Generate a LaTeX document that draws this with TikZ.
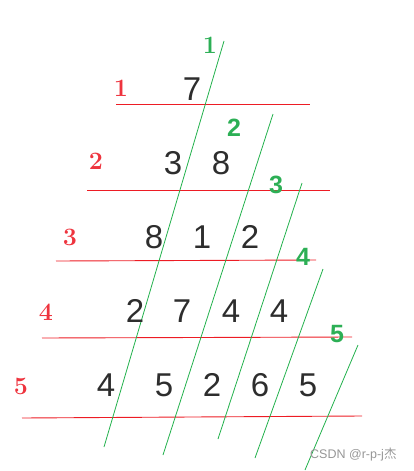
\documentclass[tikz,border=0pt]{standalone}
\usepackage{fontspec}
\newfontfamily\digitfont{Liberation Sans}
\newfontfamily\cjkfont{Noto Sans CJK SC}
\definecolor{pred}{RGB}{237,28,36}
\definecolor{lred}{RGB}{238,52,62}
\definecolor{pgreen}{RGB}{34,177,76}
\definecolor{lgreen}{RGB}{44,175,85}
\definecolor{dgray}{RGB}{45,45,45}
\definecolor{wm}{RGB}{150,150,150}
\tikzset{
  num/.style={font=\digitfont\fontsize{33}{33}\selectfont, text=dgray, inner sep=0pt},
  rowlabel/.style={font=\bfseries\fontsize{25}{25}\selectfont, text=lred, inner sep=0pt},
  diaglabel/.style={font=\digitfont\bfseries\fontsize{25}{25}\selectfont, text=lgreen, inner sep=0pt},
  diaglabelserif/.style={font=\bfseries\fontsize{25}{25}\selectfont, text=lgreen, inner sep=0pt},
  rowline/.style={draw=pred, line width=0.9pt},
  diagline/.style={draw=pgreen, line width=0.8pt},
}
\begin{document}
\begin{tikzpicture}[x=1pt,y=-1pt]
\useasboundingbox (0,0) rectangle (413,471);
% horizontal red lines
\draw[rowline] (116,104) -- (310,104);
\draw[rowline] (87,190) -- (330,190);
\draw[rowline] (56,261) -- (316,260);
\draw[rowline] (42,338) -- (352,337);
\draw[rowline] (22,418) -- (362,416);
% diagonal green lines
\coordinate (g1a) at (224,41);  \coordinate (g1b) at (104,447);
\coordinate (g2a) at (273,114); \coordinate (g2b) at (163,455);
\coordinate (g3a) at (302,183); \coordinate (g3b) at (218,439);
\coordinate (g4a) at (323,269); \coordinate (g4b) at (255,458);
\coordinate (g5a) at (358,345); \coordinate (g5b) at (305,470);
\draw[diagline] (g1a) -- (g1b);
\draw[diagline] (g2a) -- (g2b);
\draw[diagline] (g3a) -- (g3b);
\draw[diagline] (g4a) -- (g4b);
\draw[diagline] (g5a) -- (g5b);
% row labels
\node[rowlabel] (r1) at (121,88) {1};
\node[rowlabel] (r2) at (96,161) {2};
\node[rowlabel] (r3) at (70,237) {3};
\node[rowlabel] (r4) at (46,312) {4};
\node[rowlabel] (r5) at (21,386) {5};
% diagonal labels
\node[diaglabelserif] (d1) at (210,45) {1};
\node[diaglabel] (d2) at (234,128) {2};
\node[diaglabel] (d3) at (276,185) {3};
\node[diaglabel] (d4) at (303,257) {4};
\node[diaglabel] (d5) at (337,334) {5};
% triangle numbers
\node[num] (n11) at (192,89) {7};
\node[num] (n21) at (173,163) {3};
\node[num] (n22) at (221,163) {8};
\node[num] (n31) at (154,237) {8};
\node[num] (n32) at (202,237) {1};
\node[num] (n33) at (250,237) {2};
\node[num] (n41) at (135,311) {2};
\node[num] (n42) at (182,311) {7};
\node[num] (n43) at (231,311) {4};
\node[num] (n44) at (279,311) {4};
\node[num] (n51) at (106,385) {4};
\node[num] (n52) at (164,385) {5};
\node[num] (n53) at (212,385) {2};
\node[num] (n54) at (260,385) {6};
\node[num] (n55) at (308,385) {5};
% watermark
\node[anchor=west, inner sep=0pt, text=wm, font=\digitfont\fontsize{12.5}{12.5}\selectfont] (wmk) at (310,455) {CSDN @r-p-j{\cjkfont 杰}};
\end{tikzpicture}
\end{document}
